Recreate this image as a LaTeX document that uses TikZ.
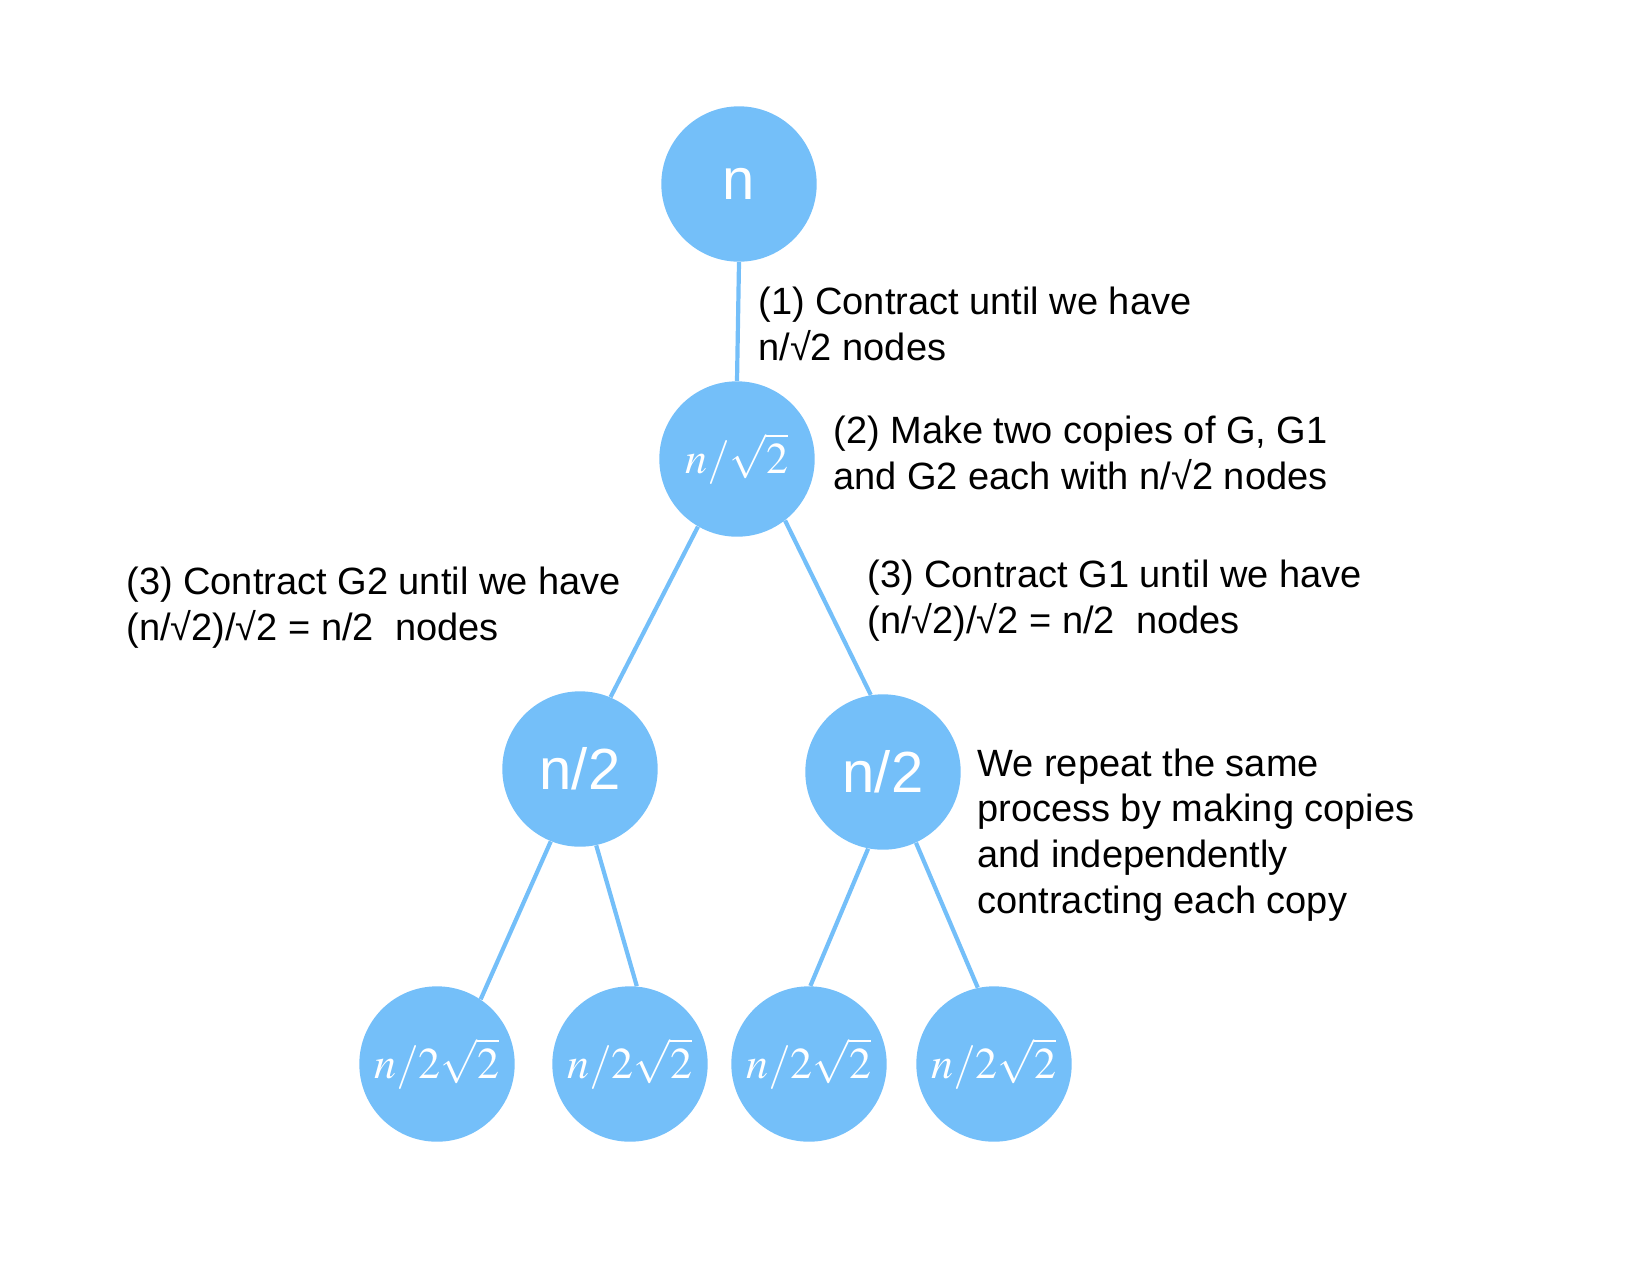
\documentclass[tikz,border=0pt]{standalone}
\usepackage{mathptmx}
\usepackage[no-math]{fontspec}
\setmainfont{Liberation Sans}
\definecolor{my_lightblue}{HTML}{74BFF9}
\definecolor{my_black}{HTML}{000000}

\begin{document}
\begin{tikzpicture}[
    x=0.5pt, y=-0.5pt,
    treenode/.style={circle, fill=my_lightblue, minimum size=77.7pt, inner sep=0pt, text=white},
    sansnum/.style={font=\fontsize{29}{32}\selectfont},
    mathnum/.style={font=\fontsize{22}{26}\selectfont},
    edge/.style={draw=my_lightblue, line width=2.1pt},
    note/.style={font=\fontsize{19}{22.8}\selectfont, text=my_black, align=left, anchor=base west, inner sep=0pt}
]

%% ================================================================
%% Rahmen (Seitengroesse wie Vorlage)
%% ================================================================
\useasboundingbox (0,0) rectangle (1636,1260);

%% ================================================================
%% KNOTEN: Baum der Kontraktionen
%% ================================================================
\node[treenode, sansnum] (root) at (739,184) {n};
\node[treenode, mathnum] (half) at (737,459) {$n/\sqrt{2}$};

%% --- zweite Ebene ---
\node[treenode, sansnum] (leftmid)  at (580,769) {n/2};
\node[treenode, sansnum] (rightmid) at (883,772) {n/2};

%% --- Blaetter ---
\node[treenode, mathnum] (leafa) at (437,1064) {$n/2\sqrt{2}$};
\node[treenode, mathnum] (leafb) at (630,1064) {$n/2\sqrt{2}$};
\node[treenode, mathnum] (leafc) at (809,1064) {$n/2\sqrt{2}$};
\node[treenode, mathnum] (leafd) at (994,1064) {$n/2\sqrt{2}$};

%% ================================================================
%% KANTEN
%% ================================================================
\draw[edge] (root.south) -- (half.north);
\draw[edge] (half.-120) -- (leftmid.67);
\draw[edge] (half.-52) -- (rightmid.99);
\draw[edge] (leftmid.-112) -- (leafa.56);
\draw[edge] (leftmid.-78) -- (leafb.85);
\draw[edge] (rightmid.-101) -- (leafc.89);
\draw[edge] (rightmid.-65) -- (leafd.102);

%% ================================================================
%% ERKLAERUNGEN (Anker: Grundlinie der letzten Zeile)
%% ================================================================
\node[note] (stepone) at (758,360)
    {(1) Contract until we have\\n/√2 nodes};
\node[note] (steptwo) at (833,489)
    {(2) Make two copies of G, G1\\and G2 each with n/√2 nodes};
\node[note] (stepthreeleft) at (126,640)
    {(3) Contract G2 until we have\\(n/√2)/√2 = n/2\ \ nodes};
\node[note] (stepthreeright) at (867,633)
    {(3) Contract G1 until we have\\(n/√2)/√2 = n/2\ \ nodes};
\node[note] (repeatnote) at (977,913)
    {We repeat the same\\process by making copies\\and independently\\contracting each copy};

\end{tikzpicture}
\end{document}
